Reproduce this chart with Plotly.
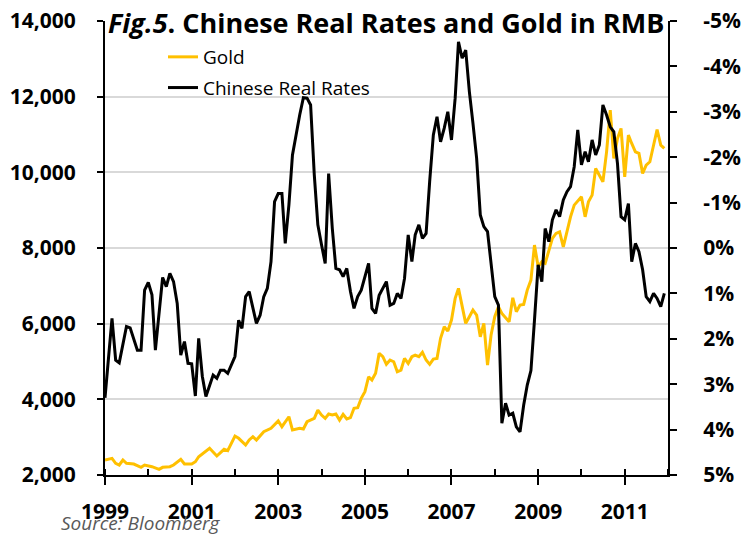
import plotly.graph_objects as go

# Gold price in RMB (monthly)
gold_dates = [
    "1999-01", "1999-03", "1999-04", "1999-05", "1999-06", "1999-07", "1999-09", "1999-11", "1999-12",
    "2000-02", "2000-04", "2000-05", "2000-07", "2000-08", "2000-10", "2000-11",
    "2001-01", "2001-02", "2001-03", "2001-06", "2001-08", "2001-10", "2001-11",
    "2002-01", "2002-02", "2002-04", "2002-05", "2002-06", "2002-07", "2002-09", "2002-11",
    "2003-01", "2003-02", "2003-04", "2003-05", "2003-07", "2003-08", "2003-09", "2003-11", "2003-12",
    "2004-01", "2004-02", "2004-03", "2004-04", "2004-05", "2004-06", "2004-07", "2004-08", "2004-09",
    "2004-10", "2004-11", "2004-12",
    "2005-01", "2005-02", "2005-03", "2005-04", "2005-05", "2005-06", "2005-07", "2005-08", "2005-09",
    "2005-10", "2005-11", "2005-12",
    "2006-01", "2006-02", "2006-03", "2006-04", "2006-05", "2006-06", "2006-07", "2006-08", "2006-09",
    "2006-10", "2006-11", "2006-12",
    "2007-01", "2007-02", "2007-03", "2007-04", "2007-05", "2007-06", "2007-07", "2007-08", "2007-09",
    "2007-10", "2007-11", "2007-12",
    "2008-01", "2008-02", "2008-03", "2008-05", "2008-06", "2008-07", "2008-08", "2008-09", "2008-10",
    "2008-11", "2008-12",
    "2009-01", "2009-02", "2009-03", "2009-04", "2009-05", "2009-06", "2009-07", "2009-08", "2009-09",
    "2009-10", "2009-11",
    "2010-01", "2010-02", "2010-03", "2010-04", "2010-05", "2010-07", "2010-08", "2010-09", "2010-10",
    "2010-11", "2010-12",
    "2011-01", "2011-02", "2011-03", "2011-04", "2011-05", "2011-06", "2011-07", "2011-08", "2011-10",
    "2011-11", "2011-12",
]
gold_rmb = [
    2396, 2441, 2309, 2264, 2396, 2309, 2290, 2203, 2264,
    2220, 2150, 2203, 2220, 2264, 2415, 2290,
    2290, 2351, 2484, 2705, 2502, 2679, 2642,
    3030, 2970, 2793, 2925, 3012, 2925, 3144, 3233,
    3427, 3276, 3540, 3189, 3233, 3215, 3408, 3498, 3717,
    3585, 3498, 3612, 3585, 3612, 3453, 3603, 3480, 3515,
    3762, 3778, 4026,
    4201, 4597, 4510, 4687, 5215, 5126, 4925, 5038, 4994,
    4730, 4774, 5083,
    4950, 5126, 5170, 5126, 5242, 5038, 4925, 5065, 5083,
    5612, 5918, 5804,
    6095, 6668, 6933, 6491, 6008, 6182, 6359, 6227, 5654,
    6008, 4906, 5699,
    6182, 6447, 6272, 6050, 6685, 6315, 6491, 6509, 6888,
    7152, 8077,
    7503, 7636, 7592, 7945, 8254, 8386, 8428, 8032, 8473,
    8824, 9133,
    9353, 8824, 9221, 9398, 10103, 9749, 10542, 11644, 10367,
    10896, 11160,
    9881, 10983, 10763, 10542, 10500, 9972, 10190, 10278, 11133,
    10719, 10631,
]

# Chinese real rates, % (plotted on an inverted right axis)
rate_dates = [
    "1999-01", "1999-03", "1999-04", "1999-05", "1999-07", "1999-08", "1999-10", "1999-11", "1999-12",
    "2000-01", "2000-02", "2000-03", "2000-05", "2000-06", "2000-07", "2000-08", "2000-09", "2000-10",
    "2000-11", "2000-12",
    "2001-01", "2001-02", "2001-03", "2001-04", "2001-05", "2001-07", "2001-08", "2001-09", "2001-10",
    "2001-11",
    "2002-01", "2002-02", "2002-03", "2002-04", "2002-05", "2002-07", "2002-08", "2002-09", "2002-10",
    "2002-11", "2002-12",
    "2003-01", "2003-02", "2003-03", "2003-04", "2003-05", "2003-07", "2003-08", "2003-09", "2003-10",
    "2003-11", "2003-12",
    "2004-01", "2004-02", "2004-03", "2004-04", "2004-05", "2004-06", "2004-07", "2004-08", "2004-09",
    "2004-10", "2004-11", "2004-12",
    "2005-02", "2005-03", "2005-04", "2005-05", "2005-07", "2005-08", "2005-09", "2005-10", "2005-11",
    "2005-12",
    "2006-01", "2006-02", "2006-03", "2006-04", "2006-05", "2006-06", "2006-07", "2006-08", "2006-09",
    "2006-10", "2006-11", "2006-12",
    "2007-01", "2007-02", "2007-03", "2007-04", "2007-05", "2007-06", "2007-07", "2007-08", "2007-09",
    "2007-10", "2007-11", "2007-12",
    "2008-01", "2008-02", "2008-03", "2008-04", "2008-05", "2008-06", "2008-07", "2008-08", "2008-09",
    "2008-10", "2008-11", "2008-12",
    "2009-01", "2009-02", "2009-03", "2009-04", "2009-05", "2009-06", "2009-07", "2009-08", "2009-09",
    "2009-10", "2009-11", "2009-12",
    "2010-01", "2010-02", "2010-03", "2010-04", "2010-05", "2010-06", "2010-07", "2010-08", "2010-09",
    "2010-10", "2010-11", "2010-12",
    "2011-01", "2011-02", "2011-03", "2011-04", "2011-05", "2011-06", "2011-07", "2011-08", "2011-09",
    "2011-10", "2011-11", "2011-12",
]
real_rate_pct = [
    3.30, 1.55, 2.47, 2.53, 1.73, 1.76, 2.25, 2.25, 0.93,
    0.76, 1.03, 2.25, 0.65, 0.85, 0.56, 0.74, 1.22, 2.36,
    2.06, 2.54,
    2.55, 3.26, 1.99, 2.83, 3.27, 2.80, 2.87, 2.69, 2.69,
    2.76,
    2.39, 1.59, 1.77, 1.07, 0.96, 1.66, 1.48, 1.07, 0.89,
    0.30, -1.02,
    -1.20, -1.20, -0.10, -0.95, -2.05, -2.93, -3.31, -3.30, -3.15,
    -1.61, -0.51,
    -0.07, 0.34, -1.64, -0.43, 0.45, 0.48, 0.63, 0.45, 0.96,
    1.33, 1.07, 0.93,
    0.34, 1.33, 1.44, 1.04, 0.74, 1.26, 1.22, 1.00, 1.11,
    0.67,
    -0.29, 0.30, -0.29, -0.51, -0.21, -0.32, -1.46, -2.49, -2.89,
    -2.34, -2.64, -3.00,
    -2.38, -3.30, -4.54, -4.18, -4.36, -3.44, -2.75, -1.98, -0.73,
    -0.47, -0.36, 0.30,
    1.07, 1.26, 3.86, 3.42, 3.68, 3.64, 3.94, 4.05, 3.46,
    3.02, 2.70, 1.59,
    0.37, 0.74, -0.43, -0.14, -0.62, -0.84, -0.69, -1.06, -1.24,
    -1.35, -1.79, -2.60,
    -1.83, -2.12, -1.90, -2.38, -2.05, -2.27, -3.15, -2.93, -2.67,
    -2.56, -1.86, -0.69,
    -0.62, -0.98, 0.30, -0.10, 0.08, 0.48, 1.07, 1.18, 1.00,
    1.11, 1.29, 1.00,
]

rate_ticks = [-5, -4, -3, -2, -1, 0, 1, 2, 3, 4, 5]
rate_tick_labels = [f"{v}%" for v in rate_ticks]

FONT = "Open Sans"
GOLD = "#FFC000"

fig = go.Figure()
fig.add_trace(
    go.Scatter(
        x=gold_dates,
        y=gold_rmb,
        mode="lines",
        line=dict(color=GOLD, width=3),
        name="Gold",
        legendgroup="a",
    )
)
fig.add_trace(
    go.Scatter(
        x=rate_dates,
        y=real_rate_pct,
        yaxis="y2",
        mode="lines",
        line=dict(color="black", width=3),
        name="Chinese Real Rates",
        legendgroup="b",
    )
)

tick_font = dict(family=FONT, size=21, weight="bold")

fig.update_layout(
    width=744,
    height=535,
    margin=dict(l=105, r=76, t=21, b=60, autoexpand=False),
    paper_bgcolor="white",
    plot_bgcolor="white",
    font=dict(family=FONT, color="black"),
    title=dict(
        text="<i>Fig.5</i>. Chinese Real Rates and Gold in RMB",
        font=dict(family=FONT, size=27, weight="bold", color="black"),
        xref="container",
        x=108 / 744,
        xanchor="left",
        yref="container",
        y=1 - 24 / 535,
        yanchor="middle",
    ),
    xaxis=dict(
        type="date",
        range=["1999-01-01", "2012-01-01"],
        tick0="1999-01-01",
        dtick="M24",
        tickformat="%Y",
        ticks="outside",
        ticklen=8,
        tickwidth=2,
        tickcolor="black",
        ticklabelstandoff=9,
        minor=dict(dtick="M12", ticks="inside", ticklen=6, tickwidth=2, tickcolor="black"),
        showline=True,
        linecolor="black",
        linewidth=2,
        showgrid=False,
        tickfont=tick_font,
    ),
    yaxis=dict(
        range=[2000, 14000],
        dtick=2000,
        tickformat=",",
        ticks="outside",
        ticklen=6,
        tickwidth=2,
        tickcolor="black",
        ticklabelstandoff=17,
        showline=True,
        linecolor="black",
        linewidth=2,
        showgrid=True,
        gridcolor="#D9D9D9",
        gridwidth=1.5,
        zeroline=False,
        tickfont=tick_font,
    ),
    yaxis2=dict(
        overlaying="y",
        side="right",
        range=[5, -5],
        tickvals=rate_ticks,
        ticktext=rate_tick_labels,
        ticks="outside",
        ticklen=7,
        tickwidth=2,
        tickcolor="black",
        ticklabelstandoff=22,
        showline=True,
        linecolor="black",
        linewidth=2,
        showgrid=False,
        zeroline=False,
        tickfont=tick_font,
    ),
    legend=dict(
        x=(163 - 105) / 563,
        y=(475 - 38) / 454,
        xanchor="left",
        yanchor="top",
        bgcolor="rgba(0,0,0,0)",
        font=dict(family=FONT, size=19, color="black"),
        tracegroupgap=3,
    ),
    annotations=[
        dict(
            text="<i>Source: Bloomberg</i>",
            xref="paper",
            yref="paper",
            x=-46 / 563,
            y=-48 / 454,
            xanchor="left",
            yanchor="middle",
            showarrow=False,
            font=dict(family=FONT, size=19, color="#595959"),
        )
    ],
)

# the page's default 8px body margin would push the figure off the window
fig.write_html(
    "out.html",
    config={"displayModeBar": False},
    post_script="document.body.style.margin = '0';",
)
